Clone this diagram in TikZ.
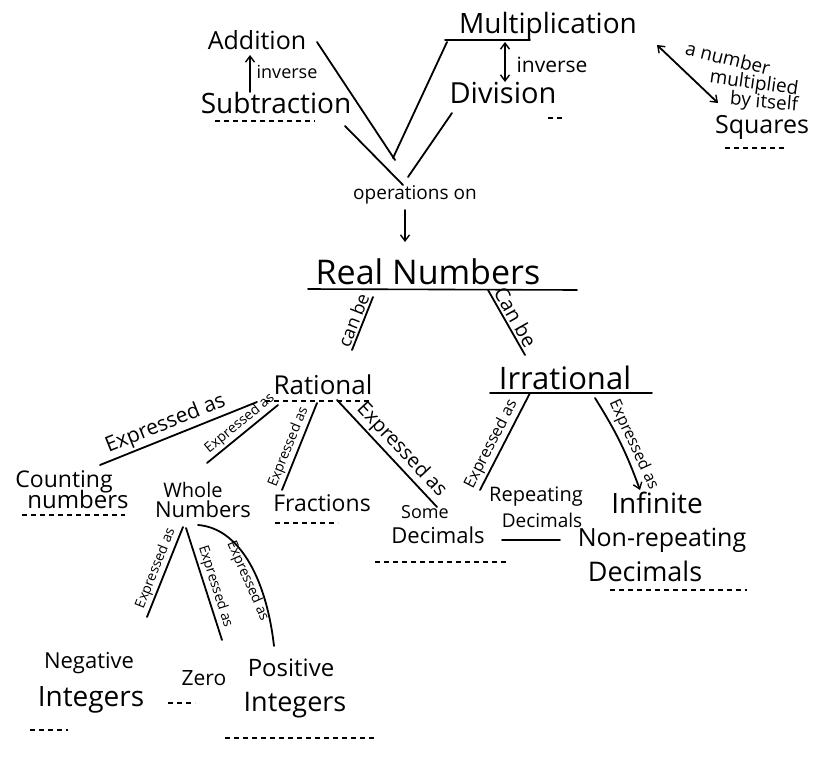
\documentclass[tikz,border=0pt]{standalone}
\usepackage{fontspec}
\setmainfont{Open Sans}
\usetikzlibrary{arrows.meta}
\newcommand\myfs[1]{\fontsize{#1}{#1}\selectfont}
\begin{document}
\begin{tikzpicture}[x=1pt,y=-1pt,
  txt/.style={inner sep=0pt, anchor=center, font=\myfs{#1}},
  lbl/.style={inner sep=2pt, sloped, font=\myfs{#1}},
  ln/.style={line width=1.8pt, line cap=round},
  tip/.style={-{Straight Barb[length=6pt,width=9pt,line width=1.4pt]}},
  dtip/.style={{Straight Barb[length=6pt,width=9pt,line width=1.4pt]}-{Straight Barb[length=6pt,width=9pt,line width=1.4pt]}},
  ul/.style={line width=1.6pt, line cap=round},
  uldot/.style={line width=1.6pt, dash pattern=on 5pt off 4pt},
]
\useasboundingbox (0,0) rectangle (814,771);
\fill[white] (0,0) rectangle (814,771);

% --- top ---
\node[txt=25] (add) at (257,40) {Addition};
\node[txt=28] (sub) at (276,103) {Subtraction};
\node[txt=28] (mult) at (548,26) {Multiplication};
\node[txt=29] (div) at (503,93) {Division};
\node[txt=18] (invL) at (287,72) {inverse};
\node[txt=21] (invR) at (552,65) {inverse};
\node[txt=19] (ops) at (415,195) {operations on};
\node[txt=19, rotate=-14] (numA) at (728,58) {a number};
\node[txt=19, rotate=-8] (numB) at (754,84) {multiplied};
\node[txt=19, rotate=-5] (numC) at (764,103) {by itself};
\node[txt=25] (sq) at (762,127) {Squares};

\draw[ln,tip] ([shift={(-26,-11)}]sub.center) -- ([shift={(-7,15)}]add.center);
\draw[ln,dtip] ([shift={(-43,16)}]mult.center) -- ([shift={(2,-11)}]div.center);
\draw[ln,dtip] ([shift={(109,19)}]mult.center) -- ([shift={(-44,-24)}]sq.center);

\draw[ln] ([shift={(60,2)}]add.center) -- ([shift={(-20,-35)}]ops.center);
\draw[ln] ([shift={(-101,16)}]mult.center) -- ([shift={(-22,-37)}]ops.center);
\draw[ln] ([shift={(69,23)}]sub.center) -- ([shift={(-12,-10)}]ops.center);
\draw[ln] ([shift={(-51,20)}]div.center) -- ([shift={(-7,-18)}]ops.center);

% --- real numbers ---
\node[txt=34] (real) at (428,272) {Real Numbers};
\draw[ln,tip] ([shift={(-10,15)}]ops.center) -- ([shift={(-23,-30)}]real.center);

\node[txt=26] (rat) at (323,385) {Rational};
\node[txt=31] (irr) at (565,378) {Irrational};

\draw[ln] ([shift={(-55,25)}]real.center) -- node[lbl=18,above]{can be} ([shift={(29,-35)}]rat.center);
\draw[ln] ([shift={(60,18)}]real.center) -- node[lbl=20,above]{Can be} ([shift={(-40,-23)}]irr.center);

% --- rational children ---
\node[txt=23] (countA) at (64,482) {Counting};
\node[txt=24] (countB) at (78,499) {numbers};
\node[txt=20] (wholeA) at (193,490) {Whole};
\node[txt=22] (wholeB) at (203,509) {Numbers};
\node[txt=23] (frac) at (322,503) {Fractions};
\node[txt=18] (someA) at (425,512) {Some};
\node[txt=22] (someB) at (438,535) {Decimals};

\draw[ln] ([shift={(-66,17)}]rat.center) -- node[lbl=21,above,pos=0.55]{Expressed as} ([shift={(36,-17)}]countA.center);
\draw[ln] ([shift={(-45,20)}]rat.center) -- node[lbl=14,above,pos=0.45]{Expressed as} ([shift={(14,-27)}]wholeA.center);
\draw[ln] ([shift={(-6,18)}]rat.center) -- node[lbl=14,above,pos=0.55]{Expressed as} ([shift={(-40,-13)}]frac.center);
\draw[ln] ([shift={(14,15)}]rat.center) -- node[lbl=20,above,pos=0.55]{Expressed as} ([shift={(12,-5)}]someA.center);

% --- irrational children ---
\node[txt=20] (repA) at (536,497) {Repeating};
\node[txt=19] (repB) at (542,520) {Decimals};
\node[txt=28] (infA) at (657,503) {Infinite};
\node[txt=25] (infB) at (662,540) {Non-repeating};
\node[txt=27] (infC) at (645,571) {Decimals};

\draw[ln] ([shift={(-35,15)}]irr.center) -- node[lbl=16,above,pos=0.58]{Expressed as} ([shift={(-56,-7)}]repA.center);
\draw[ln,tip] ([shift={(30,20)}]irr.center) to[bend left=6] node[lbl=16,above,pos=0.58]{Expressed as} ([shift={(-17,-13)}]infA.center);

% --- whole numbers children ---
\node[txt=22] (negA) at (89,663) {Negative};
\node[txt=28] (negB) at (91,700) {Integers};
\node[txt=21] (zero) at (204,678) {Zero};
\node[txt=24] (posA) at (291,668) {Positive};
\node[txt=27] (posB) at (295,705) {Integers};

\draw[ln] ([shift={(-20,18)}]wholeB.center) -- node[lbl=14,above]{Expressed as} ([shift={(58,-46)}]negA.center);
\draw[ln] ([shift={(-17,19)}]wholeB.center) -- node[lbl=14,above,pos=0.55]{Expressed as} ([shift={(18,-38)}]zero.center);
\draw[ln] ([shift={(-5,16)}]wholeB.center) .. controls +(40,3) and +(-8,-70) .. node[lbl=14,below,pos=0.62]{Expressed as} ([shift={(-17,-22)}]posA.center);

% --- underlines ---
\draw[ul] ([shift={(-103,14)}]mult.center) -- ([shift={(-18,14)}]mult.center);
\draw[uldot] ([shift={(-61,18)}]sub.center) -- ([shift={(39,18)}]sub.center);
\draw[uldot] ([shift={(45,25)}]div.center) -- ([shift={(59,25)}]div.center);
\draw[uldot] ([shift={(-37,21)}]sq.center) -- ([shift={(23,21)}]sq.center);
\draw[ul] ([shift={(-120,17)}]real.center) -- ([shift={(149,18)}]real.center);
\draw[uldot] ([shift={(-58,16)}]rat.center) -- ([shift={(47,16)}]rat.center);
\draw[ul] ([shift={(-75,15)}]irr.center) -- ([shift={(87,15)}]irr.center);
\draw[uldot] ([shift={(-56,16)}]countB.center) -- ([shift={(47,16)}]countB.center);
\draw[uldot] ([shift={(-47,20)}]frac.center) -- ([shift={(16,20)}]frac.center);
\draw[uldot] ([shift={(-63,27)}]someB.center) -- ([shift={(69,27)}]someB.center);
\draw[ul] ([shift={(-40,20)}]repB.center) -- ([shift={(18,20)}]repB.center);
\draw[uldot] ([shift={(-35,19)}]infC.center) -- ([shift={(102,19)}]infC.center);
\draw[uldot] ([shift={(-61,30)}]negB.center) -- ([shift={(-23,30)}]negB.center);
\draw[uldot] ([shift={(-36,25)}]zero.center) -- ([shift={(-9,25)}]zero.center);
\draw[uldot] ([shift={(-70,33)}]posB.center) -- ([shift={(80,33)}]posB.center);
\end{tikzpicture}
\end{document}
